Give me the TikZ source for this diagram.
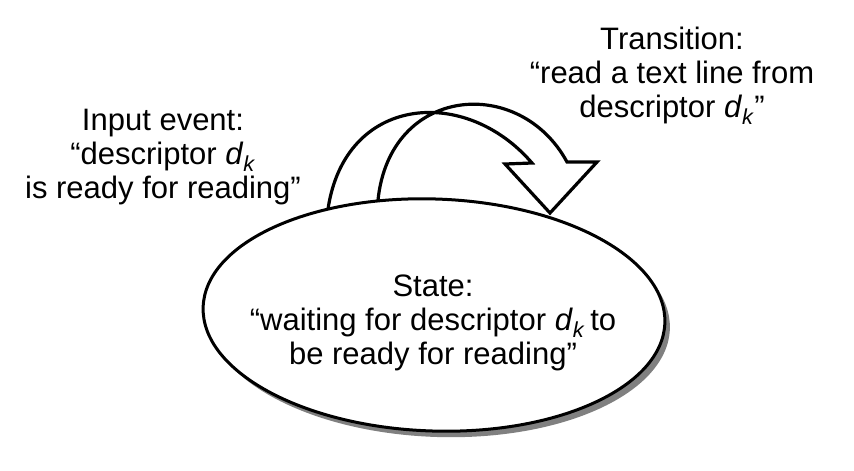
\documentclass[tikz,border=0pt]{standalone}
\usepackage{fontspec}
\setmainfont{Liberation Sans}
\usetikzlibrary{shapes.geometric}
\newcommand\dkk{\textit{d}\textsubscript{\textit{k}}}
\begin{document}
\begin{tikzpicture}[x=1pt,y=-1pt,
  lbl/.style={align=center,font=\fontsize{31}{34}\selectfont,inner sep=0pt},
  stateshape/.style={ellipse,minimum width=462pt,minimum height=232pt,line width=3pt,rotate=-2},
  arrowline/.style={line width=3.2pt,line join=miter}]
\useasboundingbox (0,0) rectangle (854,471);
\node[stateshape,fill=black!50] (shadow) at (439,321) {};
\node[stateshape,draw,fill=white] (state) at (434,315) {};
\node[lbl] (statetext) at (433,323) {State:\\``waiting for descriptor \dkk\,to\\be ready for reading''};
\node[lbl] (input) at (163,157) {Input event:\\``descriptor \dkk\\is ready for reading''};
\node[lbl] (trans) at (672,76) {Transition:\\``read a text line from\\descriptor \dkk''};
\coordinate (footA) at (328,209);
\coordinate (footB) at (378,200);
\coordinate (tip) at (550,213);
\draw[arrowline] (footA) .. controls (345,95) and (465,85) .. (532,163)
  -- (505,164) -- (tip) -- (597,162) -- (567,162)
  .. controls (520,75) and (390,85) .. (footB);
\end{tikzpicture}
\end{document}
